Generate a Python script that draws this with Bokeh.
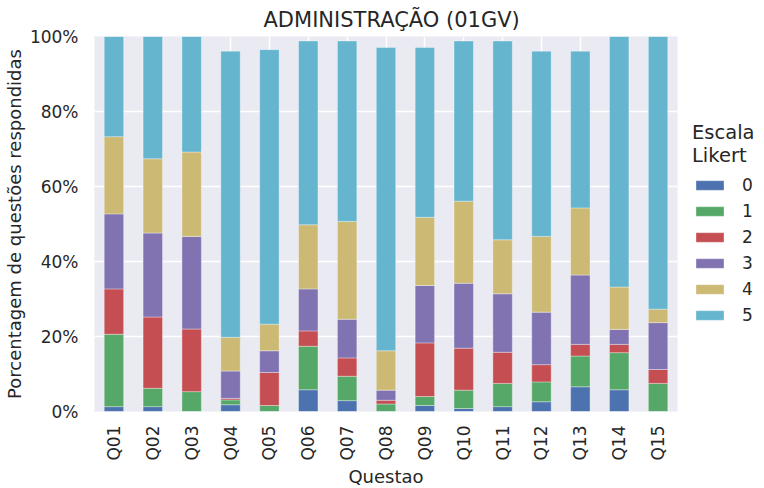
import math
from bokeh.plotting import figure
from bokeh.models import ColumnDataSource, FactorRange, Range1d, FixedTicker, PrintfTickFormatter
from bokeh.embed import file_html
from bokeh.resources import INLINE

categories = ["Q01", "Q02", "Q03", "Q04", "Q05", "Q06", "Q07", "Q08",
              "Q09", "Q10", "Q11", "Q12", "Q13", "Q14", "Q15"]
levels = ["0", "1", "2", "3", "4", "5"]
v0 = [1.3, 1.3, 0.0, 1.8, 0.0, 5.8, 2.9, 0.0, 1.6, 0.8, 1.3, 2.6, 6.6, 5.8, 0.0]
v1 = [19.3, 4.9, 5.3, 1.3, 1.6, 11.6, 6.5, 2.0, 2.4, 4.9, 6.2, 5.3, 8.2, 9.9, 7.5]
v2 = [12.1, 19.0, 16.7, 0.4, 8.8, 4.1, 4.9, 1.0, 14.3, 11.2, 8.3, 4.6, 3.1, 2.2, 3.7]
v3 = [20.0, 22.4, 24.7, 7.3, 5.8, 11.2, 10.3, 2.7, 15.3, 17.3, 15.6, 14.0, 18.5, 4.0, 12.5]
v4 = [20.6, 19.8, 22.5, 9.0, 7.1, 17.1, 26.1, 10.5, 18.2, 21.9, 14.4, 20.2, 17.9, 11.3, 3.6]
v5 = [26.7, 32.6, 30.8, 76.3, 73.2, 49.0, 48.1, 80.9, 45.3, 42.7, 53.0, 49.4, 41.8, 66.8, 72.7]
y_ticks = [0, 20, 40, 60, 80, 100]

colors = ["#4C72B0", "#55A868", "#C44E52", "#8172B2", "#CCB974", "#64B5CD"]
TXT = "#262626"
FONT = "DejaVu Sans"

source = ColumnDataSource(dict(q=categories, **{"0": v0, "1": v1, "2": v2,
                                                 "3": v3, "4": v4, "5": v5}))

p = figure(x_range=FactorRange(*categories), y_range=Range1d(0, 100),
           frame_width=583, frame_height=375,
           min_border_left=89, min_border_right=76, min_border_top=30,
           min_border_bottom=40,
           output_backend="svg", toolbar_location=None,
           title="ADMINISTRAÇÃO (01GV)")

p.vbar_stack(levels, x="q", width=0.5, source=source, color=colors,
             line_color="white", line_alpha=0.35, line_width=1,
             legend_label=levels)

p.background_fill_color = "#EAEAF2"
p.border_fill_color = "white"
p.outline_line_color = None

p.title.text_font = FONT
p.title.text_font_size = "21px"
p.title.text_font_style = "normal"
p.title.text_color = TXT
p.title.align = "left"
p.title.offset = 169

for ax in (p.xaxis[0], p.yaxis[0]):
    ax.axis_line_color = None
    ax.major_tick_line_color = None
    ax.minor_tick_line_color = None
    ax.major_label_text_font = FONT
    ax.major_label_text_font_size = "17px"
    ax.major_label_text_color = TXT
    ax.axis_label_text_font = FONT
    ax.axis_label_text_font_size = "18px"
    ax.axis_label_text_font_style = "normal"
    ax.axis_label_text_color = TXT

p.yaxis.ticker = FixedTicker(ticks=y_ticks)
p.yaxis.formatter = PrintfTickFormatter(format="%d%%")
p.yaxis.axis_label = "Porcentagem de questões respondidas"
p.yaxis.major_label_standoff = 10
p.yaxis.axis_label_standoff = 2

p.xaxis.axis_label = "Questao"
p.xaxis.major_label_orientation = math.pi / 2
p.xaxis.major_label_standoff = 8
p.xaxis.axis_label_standoff = 2

p.xgrid.grid_line_color = "white"
p.ygrid.grid_line_color = "white"
p.xgrid.grid_line_width = 1.5
p.ygrid.grid_line_width = 1.5

lg = p.legend[0]
p.center.remove(lg)
lg.title = "Escala\nLikert"
lg.title_text_font = FONT
lg.title_text_font_size = "19.5px"
lg.title_text_font_style = "normal"
lg.title_text_color = TXT
lg.title_standoff = 8
lg.label_text_font = FONT
lg.label_text_font_size = "17px"
lg.label_text_color = TXT
lg.glyph_width = 35
lg.glyph_height = 12
lg.label_height = 20
lg.label_standoff = 15
lg.spacing = 6
lg.padding = 0
lg.margin = 0
lg.border_line_color = None
lg.background_fill_alpha = 0
lg.location = (15, 86)
p.add_layout(lg, "right")

open("out.html", "w").write(file_html(p, INLINE))
